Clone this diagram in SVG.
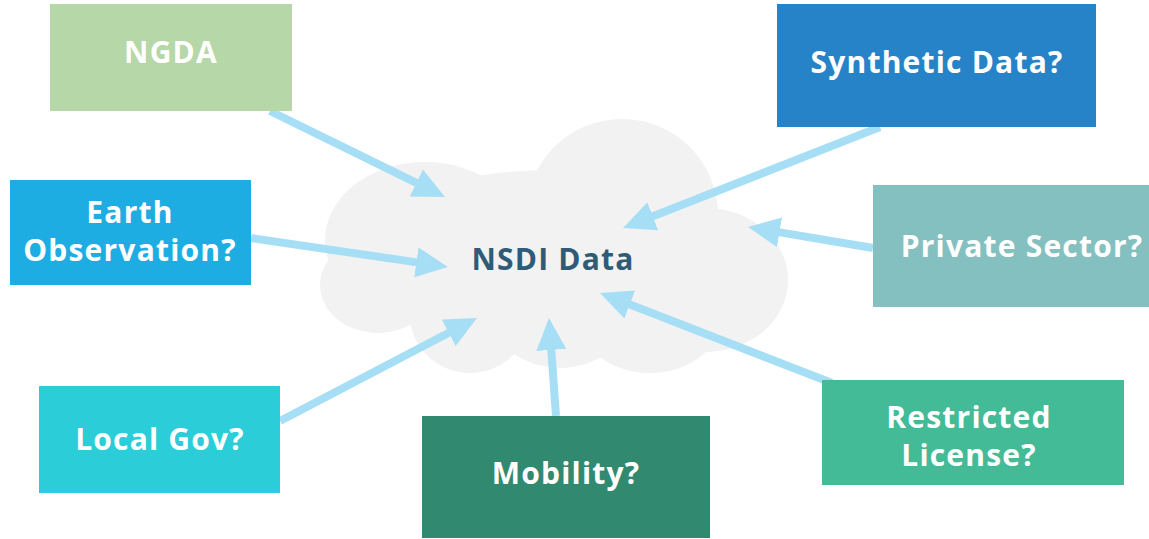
<svg xmlns="http://www.w3.org/2000/svg" width="1149" height="539" viewBox="0 0 1149 539">
<style>
.lbl{font-family:"Open Sans","Liberation Sans",sans-serif;font-weight:700;font-size:30px;letter-spacing:1.2px;fill:#ffffff;text-anchor:middle}
.conn{stroke:#a6dff5;stroke-width:8;fill:none;marker-end:url(#ah)}
.cloud{fill:#f2f2f2}
</style>
<defs>
<marker id="ah" viewBox="0 0 32 30" markerWidth="32" markerHeight="30" markerUnits="userSpaceOnUse" refX="4" refY="15" orient="auto">
<path d="M0,0 L32,15 L0,30 z" fill="#a6dff5"/>
</marker>
</defs>
<rect width="1149" height="539" fill="#ffffff"/>
<g id="nsdi">
<ellipse class="cloud" cx="622" cy="215" rx="96" ry="96"/>
<ellipse class="cloud" cx="425" cy="240" rx="100" ry="78"/>
<ellipse class="cloud" cx="706" cy="280" rx="82" ry="72"/>
<ellipse class="cloud" cx="378" cy="285" rx="58" ry="48"/>
<ellipse class="cloud" cx="470" cy="315" rx="60" ry="58"/>
<ellipse class="cloud" cx="560" cy="310" rx="70" ry="58"/>
<ellipse class="cloud" cx="650" cy="310" rx="75" ry="63"/>
<ellipse class="cloud" cx="550" cy="260" rx="200" ry="90"/>
<text x="553" y="270" class="lbl" style="fill:#2f5b77">NSDI Data</text>
</g>
<g id="connectors">
<line class="conn" x1="270" y1="111" x2="419.9" y2="184.7"/>
<line class="conn" x1="251" y1="238" x2="420.3" y2="262.9"/>
<line class="conn" x1="280" y1="421" x2="452.2" y2="331"/>
<line class="conn" x1="556" y1="416" x2="551" y2="345.9"/>
<line class="conn" x1="832" y1="383" x2="626.1" y2="303.1"/>
<line class="conn" x1="873" y1="248" x2="775.6" y2="231.6"/>
<line class="conn" x1="880" y1="127" x2="649.1" y2="217.8"/>
</g>
<g id="ngda">
<rect x="50" y="4" width="242" height="107" fill="#b6d7a8"/>
<text x="171" y="63" class="lbl">NGDA</text>
</g>
<g id="earth">
<rect x="10" y="180" width="241" height="105" fill="#1eade3"/>
<text x="130" y="223" class="lbl">Earth</text>
<text x="130" y="261" class="lbl">Observation?</text>
</g>
<g id="synthetic">
<rect x="777" y="4" width="319" height="123" fill="#2783c7"/>
<text x="937" y="73" class="lbl">Synthetic Data?</text>
</g>
<g id="private">
<rect x="873" y="185" width="276" height="122" fill="#85c0c1"/>
<text x="1022" y="257" class="lbl">Private Sector?</text>
</g>
<g id="localgov">
<rect x="39" y="386" width="241" height="107" fill="#2acdd8"/>
<text x="160" y="450" class="lbl">Local Gov?</text>
</g>
<g id="mobility">
<rect x="422" y="416" width="288" height="122" fill="#318a70"/>
<text x="566" y="484" class="lbl">Mobility?</text>
</g>
<g id="restricted">
<rect x="822" y="380" width="302" height="105" fill="#43bb96"/>
<text x="969" y="428" class="lbl">Restricted</text>
<text x="969" y="466" class="lbl">License?</text>
</g>
</svg>
